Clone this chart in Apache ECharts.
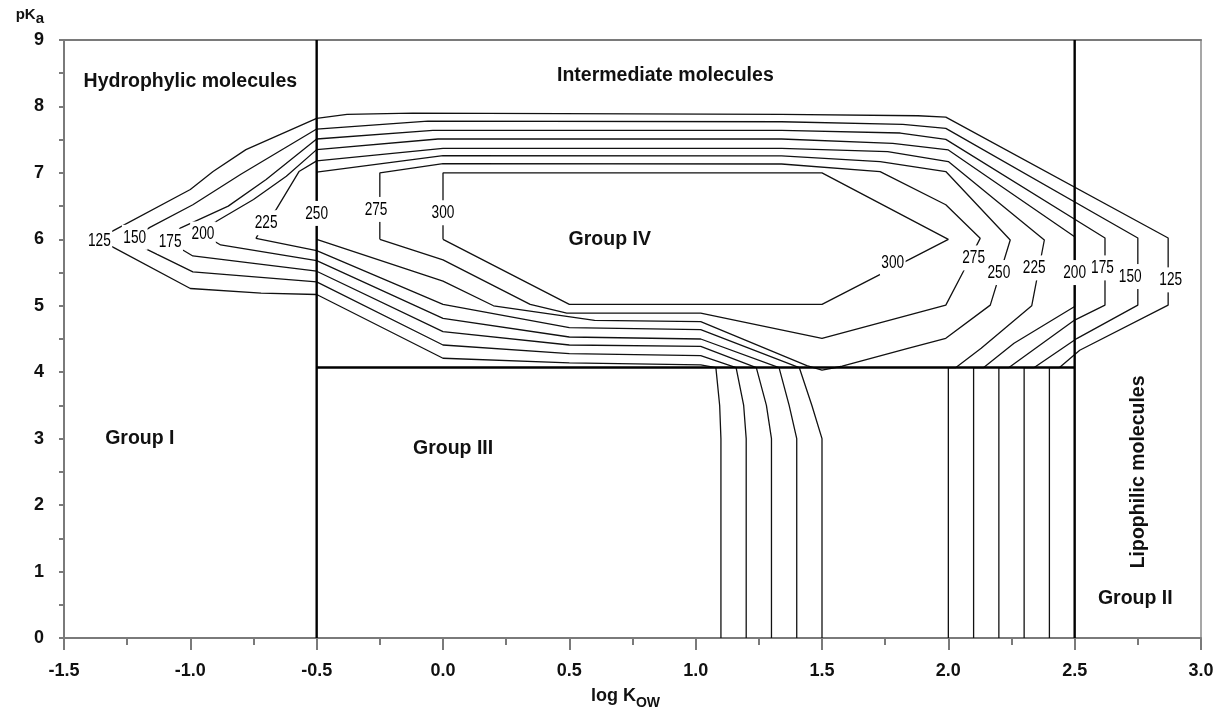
<!DOCTYPE html>
<html>
<head>
<meta charset="utf-8">
<script src="https://cdn.jsdelivr.net/npm/echarts@6/dist/echarts.min.js"></script>
<style>
html,body{margin:0;padding:0;background:#fff;}
#chart{width:1220px;height:711px;}
</style>
</head>
<body>
<div id="chart"></div>
<script>
// ---- contour lines (log Kow, pKa) ----
const c125 = [[1.1,0],[1.1,3.0],[1.095,3.5],[1.08,4.07],[1.02,4.11],[0.5,4.14],[0.0,4.21],[-0.5,5.17],[-0.72,5.19],[-1.0,5.26],[-1.31,5.89],[-1.37,6.0],[-1.31,6.12],[-1.0,6.75],[-0.91,7.02],[-0.78,7.35],[-0.5,7.82],[-0.38,7.88],[-0.12,7.9],[1.34,7.88],[1.88,7.86],[1.99,7.84],[2.87,6.02],[2.87,5.01],[2.52,4.33],[2.44,4.07],[2.4,4.07],[2.4,0]];
const c150 = [[1.2,0],[1.2,3.0],[1.19,3.5],[1.16,4.07],[1.02,4.25],[0.5,4.28],[0.0,4.41],[-0.5,5.36],[-0.99,5.51],[-1.18,5.865],[-1.22,6.03],[-1.16,6.18],[-0.99,6.52],[-0.8,6.98],[-0.5,7.66],[-0.06,7.78],[1.34,7.77],[1.82,7.73],[1.99,7.67],[2.75,6.02],[2.75,5.01],[2.51,4.51],[2.34,4.07],[2.3,4.07],[2.3,0]];
const c175 = [[1.3,0],[1.3,3.0],[1.28,3.5],[1.24,4.07],[1.02,4.39],[0.5,4.41],[0.0,4.61],[-0.5,5.52],[-0.99,5.75],[-1.03,5.84],[-1.08,5.98],[-1.04,6.17],[-0.85,6.5],[-0.7,6.9],[-0.5,7.51],[-0.04,7.64],[1.34,7.64],[1.81,7.6],[1.99,7.505],[2.62,6.02],[2.62,5.01],[2.5,4.785],[2.24,4.07],[2.2,4.07],[2.2,0]];
const c200 = [[1.4,0],[1.4,3.0],[1.37,3.5],[1.33,4.07],[1.02,4.5],[0.5,4.53],[0.0,4.81],[-0.5,5.68],[-0.88,5.915],[-0.95,6.07],[-0.92,6.22],[-0.75,6.6],[-0.62,6.95],[-0.5,7.35],[-0.02,7.51],[1.34,7.51],[1.78,7.445],[2.0,7.345],[2.5,6.04],[2.5,4.99],[2.26,4.435],[2.14,4.07],[2.1,4.07],[2.1,0]];
const c225 = [[1.5,0],[1.5,3.0],[1.46,3.5],[1.41,4.07],[1.02,4.64],[0.5,4.67],[0.0,5.02],[-0.5,5.83],[-0.74,6.015],[-0.71,6.23],[-0.66,6.45],[-0.57,7.02],[-0.5,7.18],[0.0,7.37],[1.34,7.37],[1.76,7.32],[2.0,7.17],[2.38,5.99],[2.33,5.0],[2.13,4.36],[2.03,4.07],[2.0,4.07],[2.0,0]];
const c250 = [[-0.5,6.0],[-0.5,7.01],[0.0,7.26],[1.34,7.255],[1.73,7.17],[1.99,7.02],[2.245,5.99],[2.166,5.01],[1.99,4.51],[1.84,4.36],[1.58,4.09],[1.5,4.03],[1.44,4.1],[1.02,4.76],[0.6,4.78],[0.2,5.0],[0.0,5.37],[-0.5,6.0]];
const c275 = [[-0.25,6.0],[-0.25,7.0],[0.0,7.14],[1.34,7.134],[1.73,7.02],[1.99,6.52],[2.126,6.015],[2.06,5.52],[1.99,5.01],[1.5,4.51],[1.02,4.89],[0.49,4.89],[0.345,5.02],[0.0,5.69],[-0.25,6.0]];
const c300 = [[0.0,6.0],[0.0,7.0],[1.5,7.0],[2.0,6.0],[1.5,5.02],[0.5,5.02],[0.0,6.0]];

// contour value labels
const labelText = ['125','150','175','200','225','250','275','300','125','150','175','200','225','250','275','300'];
const labelPos = [[-1.36,5.98],[-1.22,6.03],[-1.08,5.97],[-0.95,6.08],[-0.70,6.25],[-0.5,6.39],[-0.265,6.45],[0.0,6.4],
                  [2.88,5.39],[2.72,5.44],[2.61,5.57],[2.5,5.5],[2.34,5.57],[2.2,5.5],[2.1,5.72],[1.78,5.64]];

// region dividers
const dividers = [[[-0.5,0],[-0.5,9]],[[2.5,0],[2.5,9]],[[-0.5,4.07],[2.5,4.07]]];

// region names
const regionText = ['Hydrophylic molecules','Intermediate molecules','Group I','Group III','Group IV','Group II','Lipophilic molecules'];
const regionPos = [[-1.0,8.38],[0.88,8.47],[-1.2,3.0],[0.04,2.85],[0.66,6.0],[2.74,0.6],[2.755,2.5]];

const contours = [c125,c150,c175,c200,c225,c250,c275,c300];

const FONT = '"Liberation Sans", Arial, Helvetica, sans-serif';
const axisGray = '#7a7a7a';

const series = [];
contours.forEach(d => series.push({
  type:'line', data:d, symbol:'none', showSymbol:false, silent:true, z:3,
  lineStyle:{color:'#111', width:1.3}
}));
dividers.forEach(d => series.push({
  type:'line', data:d, symbol:'none', showSymbol:false, silent:true, z:4,
  lineStyle:{color:'#000', width:2.4}
}));
series.push({
  type:'custom', coordinateSystem:'cartesian2d', data:labelPos, z:10, silent:true, clip:false,
  renderItem:(params, api) => {
    const p = api.coord([api.value(0), api.value(1)]);
    return {type:'text', x:p[0], y:p[1], scaleX:0.72, z2:10,
      style:{text:labelText[params.dataIndex], font:'19px ' + FONT, fill:'#000',
             align:'center', verticalAlign:'middle', backgroundColor:'#fff', padding:[3,2]}};
  }
});
series.push({
  type:'custom', coordinateSystem:'cartesian2d', data:regionPos, z:11, silent:true, clip:false,
  renderItem:(params, api) => {
    const p = api.coord([api.value(0), api.value(1)]);
    const t = regionText[params.dataIndex];
    return {type:'text', x:p[0], y:p[1], rotation: t === 'Lipophilic molecules' ? Math.PI/2 : 0,
      style:{text:t, font:'bold 19.5px ' + FONT, fill:'#111', align:'center', verticalAlign:'middle'}};
  }
});

const chart = echarts.init(document.getElementById('chart'), null, {renderer:'canvas'});
chart.setOption({
  animation:false,
  backgroundColor:'#fff',
  grid:{left:64, right:19, top:40, bottom:73, containLabel:false, outerBoundsMode:'none'},
  xAxis:[{
    type:'value', min:-1.5, max:3.0, interval:0.5, position:'bottom',
    axisLine:{show:true, onZero:false, lineStyle:{color:axisGray, width:2}},
    axisTick:{show:true, length:12, lineStyle:{color:axisGray, width:2}},
    minorTick:{show:true, splitNumber:2, length:7, lineStyle:{color:axisGray, width:2}},
    splitLine:{show:false},
    axisLabel:{formatter:v => v.toFixed(1), margin:24, color:'#111', fontSize:18, fontWeight:'bold', fontFamily:FONT},
    name:'{a|log K}{b|OW}', nameLocation:'middle', nameGap:44,
    nameTextStyle:{padding:[0,14,0,0], rich:{
      a:{fontSize:18, fontWeight:'bold', fontFamily:FONT, color:'#111', lineHeight:28, verticalAlign:'middle'},
      b:{fontSize:14, fontWeight:'bold', fontFamily:FONT, color:'#111', lineHeight:28, verticalAlign:'bottom'}
    }}
  },{
    type:'value', min:-1.5, max:3.0, position:'top',
    axisLine:{show:true, onZero:false, lineStyle:{color:axisGray, width:2}},
    axisTick:{show:false}, axisLabel:{show:false}, splitLine:{show:false}
  }],
  yAxis:[{
    type:'value', min:0, max:9, interval:1, position:'left',
    axisLine:{show:true, onZero:false, lineStyle:{color:axisGray, width:2}},
    axisTick:{show:true, length:5, lineStyle:{color:axisGray, width:2}},
    minorTick:{show:true, splitNumber:2, length:5, lineStyle:{color:axisGray, width:2}},
    splitLine:{show:false},
    axisLabel:{margin:20, color:'#111', fontSize:18, fontWeight:'bold', fontFamily:FONT},
    name:'{a|pK}{b|a}', nameLocation:'end', nameGap:14,
    nameTextStyle:{align:'right', padding:[0,20,0,0], rich:{
      a:{fontSize:15, fontWeight:'bold', fontFamily:FONT, color:'#111', lineHeight:22, verticalAlign:'middle'},
      b:{fontSize:15, fontWeight:'bold', fontFamily:FONT, color:'#111', lineHeight:22, verticalAlign:'bottom'}
    }}
  },{
    type:'value', min:0, max:9, position:'right',
    axisLine:{show:true, onZero:false, lineStyle:{color:'#8a8a8a', width:1.5}},
    axisTick:{show:false}, axisLabel:{show:false}, splitLine:{show:false}
  }],
  series: series
});
</script>
</body>
</html>
